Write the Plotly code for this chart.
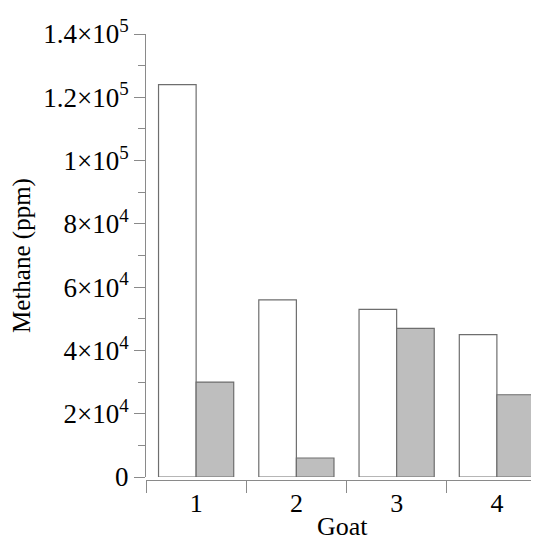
import plotly.graph_objects as go

goats = ["1", "2", "3", "4"]
series_a = [124000, 56000, 53000, 45000]
series_b = [30000, 6000, 47000, 26000]
y_tick_vals = [0, 20000, 40000, 60000, 80000, 100000, 120000, 140000]
y_tick_text = ["0", "2×10<sup>4</sup>", "4×10<sup>4</sup>", "6×10<sup>4</sup>",
               "8×10<sup>4</sup>", "1×10<sup>5</sup>", "1.2×10<sup>5</sup>", "1.4×10<sup>5</sup>"]
y_minor_vals = [10000, 30000, 50000, 70000, 90000, 110000, 130000]

FONT = "Liberation Serif"
EDGE = "#6e6e6e"
AXIS = "#8a8a8a"

fig = go.Figure()
fig.add_trace(go.Bar(x=goats, y=series_a, marker=dict(color="white", line=dict(color=EDGE, width=1.2)),
                     showlegend=False))
fig.add_trace(go.Bar(x=goats, y=series_b, marker=dict(color="#bebebe", line=dict(color=EDGE, width=1.2)),
                     showlegend=False))

# page body adds an 8px offset, so the figure is sized to fit the window
fig.update_layout(
    width=531, height=530,
    margin=dict(l=138, r=0, t=26, b=58),
    paper_bgcolor="white", plot_bgcolor="white",
    barmode="group", bargap=0.25, bargroupgap=0,
    font=dict(family=FONT, size=25, color="black"),
    xaxis=dict(
        type="category", range=[-0.5, 3.42], automargin=False,
        tickson="boundaries", ticks="outside", ticklen=12, tickcolor=AXIS, tickwidth=1,
        showline=True, linecolor=AXIS, linewidth=1, showgrid=False, zeroline=False,
        anchor="free", position=0,
        tickfont=dict(family=FONT, size=26),
    ),
    yaxis=dict(
        range=[0, 140000], domain=[3 / 446, 1], automargin=False,
        tickmode="array", tickvals=y_tick_vals, ticktext=y_tick_text,
        ticks="outside", ticklen=11, tickcolor=AXIS, tickwidth=1,
        minor=dict(tickmode="array", tickvals=y_minor_vals, ticks="outside", ticklen=7, tickcolor=AXIS),
        showline=True, linecolor=AXIS, linewidth=1, showgrid=False, zeroline=False,
        tickfont=dict(family=FONT, size=27),
        title=dict(text="Methane (ppm)", font=dict(family=FONT, size=25), standoff=6),
    ),
    annotations=[dict(text="Goat", xref="paper", yref="paper", x=0.5, y=-0.105,
                      xanchor="center", yanchor="middle", showarrow=False,
                      font=dict(family=FONT, size=26))],
)

fig.write_html("out.html")
